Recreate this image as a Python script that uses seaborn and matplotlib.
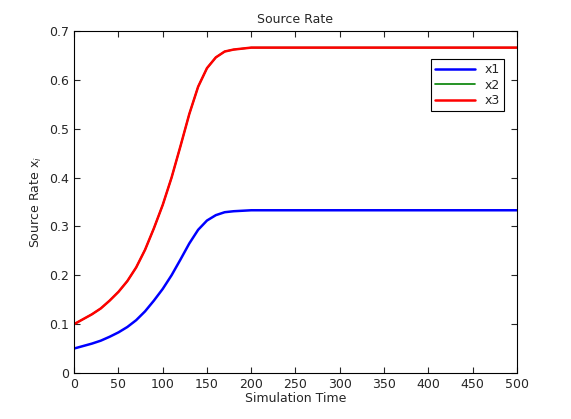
import numpy as np
import pandas as pd
import matplotlib
matplotlib.use('Agg')
import matplotlib.pyplot as plt
import seaborn as sns

# values
sim_time = [0, 10, 20, 30, 40, 50, 60, 70, 80, 90, 100, 110, 120, 130, 140, 150, 160,
            170, 180, 190, 200, 250, 300, 350, 400, 450, 500]
x1 = [0.050, 0.055, 0.060, 0.066, 0.074, 0.083, 0.094, 0.108, 0.126, 0.148, 0.172,
      0.200, 0.232, 0.265, 0.293, 0.312, 0.323, 0.329, 0.331, 0.332, 0.333, 0.333,
      0.333, 0.333, 0.333, 0.333, 0.333]
x2 = [2 * v for v in x1]
x3 = [2 * v for v in x1]

df = pd.DataFrame({'t': sim_time, 'x1': x1, 'x2': x2, 'x3': x3})

sns.set_style('white')
fig = plt.figure(figsize=(5.71, 4.19), dpi=100)
ax = fig.add_axes([0.130, 0.110, 0.775, 0.816])

sns.lineplot(x='t', y='x1', data=df, color='#0000ff', linewidth=1.8, label='x1', ax=ax)
sns.lineplot(x='t', y='x2', data=df, color='#008000', linewidth=1.2, label='x2', ax=ax)
sns.lineplot(x='t', y='x3', data=df, color='#ff0000', linewidth=1.8, label='x3', ax=ax)

ax.set_xlim(0, 500)
ax.set_ylim(0, 0.7)
ax.set_xticks(np.arange(0, 501, 50))
ax.set_yticks(np.arange(0, 0.71, 0.1))
ax.set_yticklabels(['0', '0.1', '0.2', '0.3', '0.4', '0.5', '0.6', '0.7'])
ax.tick_params(direction='in', length=4, labelsize=9, top=True, right=True,
               bottom=True, left=True)
for s in ax.spines.values():
    s.set_color('black')
    s.set_linewidth(0.8)

ax.set_title('Source Rate', fontsize=9)
ax.set_xlabel('Simulation Time', fontsize=9, labelpad=1)
ax.set_ylabel('Source Rate x$_i$', fontsize=9)

leg = ax.legend(loc='upper right', bbox_to_anchor=(0.985, 0.935), fontsize=9,
                fancybox=False, framealpha=1, edgecolor='black', handlelength=3.2,
                borderpad=0.3, labelspacing=0.2)
leg.get_frame().set_linewidth(0.8)

fig.savefig('out.png', dpi=100)
